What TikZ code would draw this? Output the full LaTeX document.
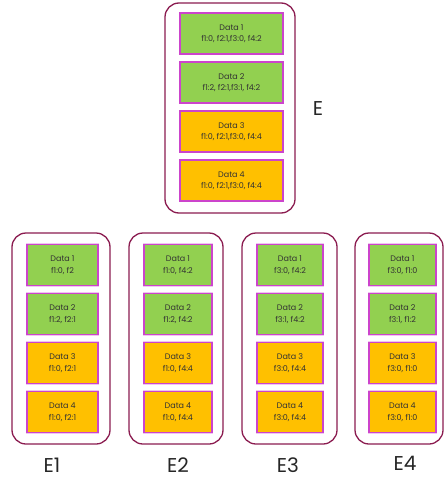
\documentclass[tikz,border=0pt]{standalone}
\usepackage{fontspec}
\setmainfont{Poppins}
\usetikzlibrary{positioning}

\begin{document}
\begin{tikzpicture}[x=1pt, y=-1pt]
    % Define colours
    \definecolor{greenFill}{HTML}{92D050}
    \definecolor{orangeFill}{HTML}{FFC000}
    \definecolor{boxBorder}{HTML}{CC44CC}
    \definecolor{groupBorder}{HTML}{8B1C50}
    \definecolor{textColour}{HTML}{333333}

    % Define styles
    \tikzset{
        dataBox/.style={draw=boxBorder, line width=1.2pt, minimum width=#1, minimum height=41pt,
            inner sep=0pt, align=center, text=textColour, font=\fontsize{8}{11.5}\selectfont,
            preaction={draw=boxBorder!30, line width=2.6pt}},
        groupBox/.style={draw=groupBorder, line width=1.3pt, rounded corners=14pt, inner sep=0pt},
        groupLabel/.style={font=\fontsize{20}{20}\selectfont, text=black!85}
    }

    % Fix the page size
    \useasboundingbox (0,0) rectangle (445,479);

    % Draw group E
    \node[groupBox, minimum width=130pt, minimum height=210pt] (groupE) at (230,108) {};
    \foreach \i/\col/\txt in {1/greenFill/{f1:0, f2:1,f3:0, f4:2}, 2/greenFill/{f1:2, f2:1,f3:1, f4:2},
                              3/orangeFill/{f1:0, f2:1,f3:0, f4:4}, 4/orangeFill/{f1:0, f2:1,f3:0, f4:4}}
        \node[dataBox=103pt, fill=\col] (E-\i) at (231.5, 33.5+49*\i-49) {Data \i\\\txt};
    \node[groupLabel] (labelE) at (318,109) {E};

    % Draw group E1
    \node[groupBox, minimum width=98pt, minimum height=211pt] (groupE1) at (61,338.5) {};
    \foreach \i/\col/\txt in {1/greenFill/{f1:0, f2}, 2/greenFill/{f1:2, f2:1},
                              3/orangeFill/{f1:0, f2:1}, 4/orangeFill/{f1:0, f2:1}}
        \node[dataBox=71pt, fill=\col] (E1-\i) at (62.5, 265+49*\i-49) {Data \i\\\txt};
    \node[groupLabel] (labelE1) at (52,465) {E1};

    % Draw group E2
    \node[groupBox, minimum width=94pt, minimum height=211pt] (groupE2) at (176,338.5) {};
    \foreach \i/\col/\txt in {1/greenFill/{f1:0, f4:2}, 2/greenFill/{f1:2, f4:2},
                              3/orangeFill/{f1:0, f4:4}, 4/orangeFill/{f1:0, f4:4}}
        \node[dataBox=68pt, fill=\col] (E2-\i) at (178, 265+49*\i-49) {Data \i\\\txt};
    \node[groupLabel] (labelE2) at (178,465) {E2};

    % Draw group E3
    \node[groupBox, minimum width=95pt, minimum height=211pt] (groupE3) at (289.5,338.5) {};
    \foreach \i/\col/\txt in {1/greenFill/{f3:0, f4:2}, 2/greenFill/{f3:1, f4:2},
                              3/orangeFill/{f3:0, f4:4}, 4/orangeFill/{f3:0, f4:4}}
        \node[dataBox=66pt, fill=\col] (E3-\i) at (290, 265+49*\i-49) {Data \i\\\txt};
    \node[groupLabel] (labelE3) at (288,465) {E3};

    % Draw group E4
    \node[groupBox, minimum width=88pt, minimum height=211pt] (groupE4) at (399,338.5) {};
    \foreach \i/\col/\txt in {1/greenFill/{f3:0, f1:0}, 2/greenFill/{f3:1, f1:2},
                              3/orangeFill/{f3:0, f1:0}, 4/orangeFill/{f3:0, f1:0}}
        \node[dataBox=67pt, fill=\col] (E4-\i) at (402.5, 265+49*\i-49) {Data \i\\\txt};
    \node[groupLabel] (labelE4) at (405,463) {E4};

\end{tikzpicture}
\end{document}
